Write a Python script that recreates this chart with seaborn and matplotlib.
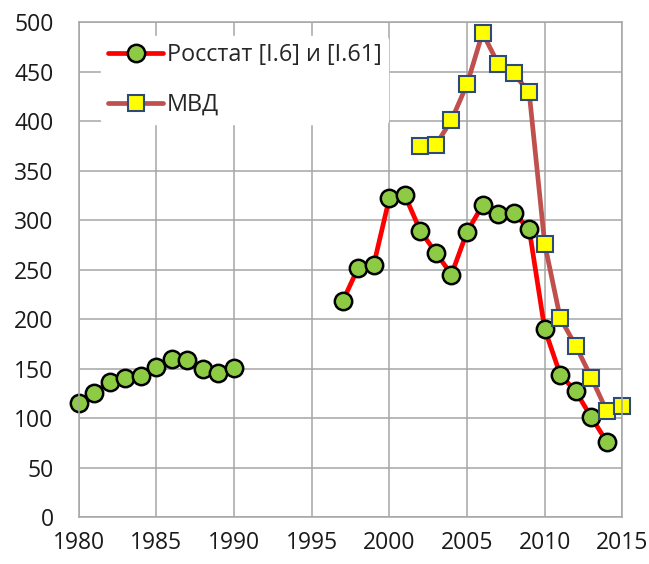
import pandas as pd
import matplotlib
matplotlib.use("Agg")
import matplotlib.pyplot as plt
from matplotlib.lines import Line2D
import seaborn as sns

# Data
rosstat_years = [1980, 1981, 1982, 1983, 1984, 1985, 1986, 1987, 1988, 1989, 1990,
                 1997, 1998, 1999, 2000, 2001, 2002, 2003, 2004, 2005, 2006, 2007,
                 2008, 2009, 2010, 2011, 2012, 2013, 2014]
rosstat_values = [115, 125, 137, 141, 143, 152, 160, 159, 150, 146, 151,
                  218, 252, 255, 322, 325, 289, 267, 245, 288, 315, 306,
                  307, 291, 190, 144, 127, 101, 76]
rosstat_segment = [0] * 11 + [1] * 18

mvd_years = [2002, 2003, 2004, 2005, 2006, 2007, 2008, 2009, 2010, 2011,
             2012, 2013, 2014, 2015]
mvd_values = [375, 376, 401, 437, 489, 458, 448, 429, 276, 201,
              173, 141, 107, 112]

x_ticks = [1980, 1985, 1990, 1995, 2000, 2005, 2010, 2015]
y_ticks = list(range(0, 501, 50))

label_rosstat = "Росстат [I.6] и [I.61]"
label_mvd = "МВД"

sns.set_theme(style="whitegrid")
plt.rcParams["font.family"] = ["Open Sans", "DejaVu Sans"]

df_r = pd.DataFrame({"year": rosstat_years, "value": rosstat_values,
                     "segment": rosstat_segment})
df_m = pd.DataFrame({"year": mvd_years, "value": mvd_values})

red = "#FF0000"
brown = "#C0504D"
green = "#8DCB45"
yellow = "#FFFF00"
navy = "#2E4A78"

r_style = dict(color=red, linewidth=3.4, marker="o", markersize=12.5,
               markerfacecolor=green, markeredgecolor="black", markeredgewidth=1.8)
m_style = dict(color=brown, linewidth=3.4, marker="s", markersize=12,
               markerfacecolor=yellow, markeredgecolor=navy, markeredgewidth=1.5)

fig = plt.figure(figsize=(6.49, 5.64), dpi=100)
ax = fig.add_axes([0.121, 0.083, 0.838, 0.878])

for seg, part in df_r.groupby("segment"):
    sns.lineplot(data=part, x="year", y="value", ax=ax, clip_on=False, **r_style)
sns.lineplot(data=df_m, x="year", y="value", ax=ax, clip_on=False, **m_style)

ax.set_xlim(1980, 2015)
ax.set_ylim(0, 500)
ax.set_xticks(x_ticks)
ax.set_yticks(y_ticks)
ax.set_xlabel("")
ax.set_ylabel("")
ax.tick_params(axis="both", labelsize=16.5, length=0, colors="#1a1a1a")
ax.tick_params(axis="x", pad=10)
ax.tick_params(axis="y", pad=18)
ax.grid(True, color="#A6A6A6", linewidth=1.1)
for sp in ax.spines.values():
    sp.set_color("#A6A6A6")
    sp.set_linewidth(1.1)

handles = [Line2D([], [], **r_style), Line2D([], [], **m_style)]
leg = ax.legend(handles, [label_rosstat, label_mvd], loc="upper left",
                bbox_to_anchor=(0.02, 0.995), frameon=True, fontsize=16.8,
                handlelength=2.36, handletextpad=0.15, labelspacing=1.1,
                borderpad=0.3)
leg.get_frame().set_facecolor("white")
leg.get_frame().set_edgecolor("white")
leg.get_frame().set_alpha(1)

fig.savefig("out.png", dpi=100)
